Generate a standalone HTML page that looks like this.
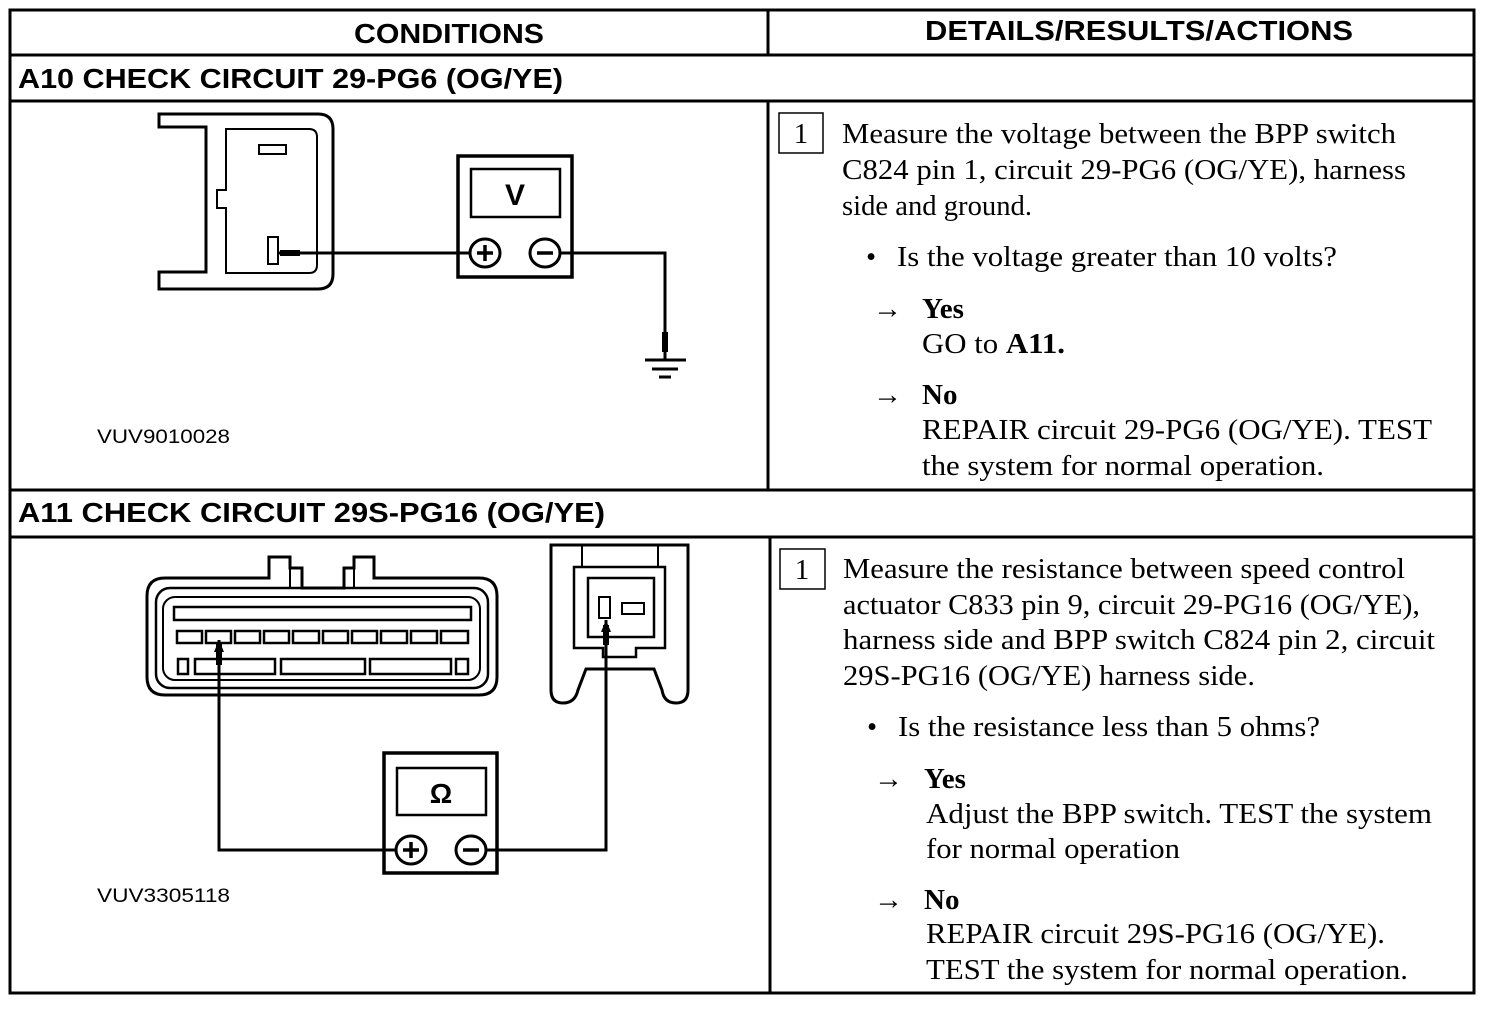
<!DOCTYPE html>
<html><head><meta charset="utf-8"><style>
html,body{margin:0;padding:0;background:#fff;}
svg{display:block;}
.h{font-family:"Liberation Sans",sans-serif;font-weight:bold;font-size:28px;}
.s{font-family:"Liberation Serif",serif;font-size:29px;}
.b{font-weight:bold;}
.l{font-family:"Liberation Sans",sans-serif;font-size:19px;}
</style></head><body>
<svg width="1504" height="1018" viewBox="0 0 1504 1018" xmlns="http://www.w3.org/2000/svg">
<g fill="none" stroke="#000" stroke-width="3">
<rect x="10" y="10" width="1464" height="983"/>
<line x1="10" y1="55" x2="1474" y2="55"/>
<line x1="10" y1="101" x2="1474" y2="101"/>
<line x1="10" y1="490" x2="1474" y2="490"/>
<line x1="10" y1="537" x2="1474" y2="537"/>
<line x1="768" y1="10" x2="768" y2="55"/>
<line x1="768" y1="101" x2="768" y2="490"/>
<line x1="770" y1="537" x2="770" y2="993"/>
</g>
<text class="h" x="354" y="43" textLength="190" lengthAdjust="spacingAndGlyphs">CONDITIONS</text>
<text class="h" x="925" y="40" textLength="428" lengthAdjust="spacingAndGlyphs">DETAILS/RESULTS/ACTIONS</text>
<text class="h" x="18" y="88" textLength="545" lengthAdjust="spacingAndGlyphs">A10 CHECK CIRCUIT 29-PG6 (OG/YE)</text>
<text class="h" x="18" y="522" textLength="587" lengthAdjust="spacingAndGlyphs">A11 CHECK CIRCUIT 29S-PG16 (OG/YE)</text>

<!-- A10 diagram -->
<g fill="none" stroke="#000" stroke-width="3">
<path d="M159,114 H318 Q333,114 333,129 V274 Q333,289 318,289 H159 V272 H206 V127 H159 Z"/>
<path d="M226,129 H309 Q317,129 317,137 V265 Q317,273 309,273 H226 V208 H217 V190 H226 Z" stroke-width="2"/>
<rect x="259" y="145" width="27" height="9" stroke-width="2"/>
<rect x="268" y="237" width="10" height="27" stroke-width="2"/>
<line x1="278" y1="253" x2="470" y2="253"/>
<line x1="280" y1="253" x2="300" y2="253" stroke-width="6"/>
<rect x="458" y="156" width="114" height="121" stroke-width="3.5"/>
<rect x="471" y="169" width="89" height="48" stroke-width="2.5"/>
<ellipse cx="485" cy="253" rx="15" ry="14"/>
<ellipse cx="545" cy="253" rx="15" ry="14"/>
<path d="M561,253 H665 V360"/>
<line x1="665" y1="332" x2="665" y2="352" stroke-width="6"/>
<line x1="645" y1="360" x2="686" y2="360"/>
<line x1="652" y1="369" x2="678" y2="369"/>
<line x1="659" y1="377" x2="671" y2="377"/>
</g>
<text x="515" y="205" font-family="Liberation Sans,sans-serif" font-weight="bold" font-size="30" text-anchor="middle">V</text>
<g stroke="#000" stroke-width="3.5"><line x1="477" y1="253" x2="493" y2="253"/><line x1="485" y1="245" x2="485" y2="261"/><line x1="537" y1="253" x2="553" y2="253"/></g>
<text class="l" x="97" y="443" textLength="133" lengthAdjust="spacingAndGlyphs">VUV9010028</text>

<!-- A11 diagram -->
<g fill="none" stroke="#000" stroke-width="3">
<path d="M165,578 H269 V557 H290 V568 H302 V588 H344 V568 H354 V557 H374 V578 H479 Q497,578 497,596 V677 Q497,695 479,695 H165 Q147,695 147,677 V596 Q147,578 165,578 Z"/>
<rect x="156" y="588" width="332" height="100" rx="14" stroke-width="2.5"/>
<rect x="163" y="597" width="317" height="83" rx="12" stroke-width="2"/>
<line x1="290" y1="568" x2="290" y2="588" stroke-width="2"/>
<line x1="354" y1="568" x2="354" y2="588" stroke-width="2"/>
<rect x="174" y="607" width="297" height="13" stroke-width="2.5"/>
<g stroke-width="2.5">
<rect x="177" y="631" width="25" height="12"/><rect x="206" y="631" width="25" height="12"/><rect x="235" y="631" width="25" height="12"/><rect x="264" y="631" width="25" height="12"/><rect x="293" y="631" width="26" height="12"/><rect x="323" y="631" width="25" height="12"/><rect x="352" y="631" width="25" height="12"/><rect x="381" y="631" width="26" height="12"/><rect x="411" y="631" width="26" height="12"/><rect x="441" y="631" width="27" height="12"/>
<rect x="178" y="659" width="10" height="15"/><rect x="195" y="659" width="80" height="15"/><rect x="281" y="659" width="84" height="15"/><rect x="370" y="659" width="81" height="15"/><rect x="456" y="659" width="12" height="15"/>
</g>
<path d="M219,640 V850 H396"/>
<line x1="219" y1="643" x2="219" y2="665" stroke-width="6"/>
<rect x="384" y="753" width="113" height="120" stroke-width="3.5"/>
<rect x="397" y="768" width="89" height="47" stroke-width="2.5"/>
<ellipse cx="411" cy="850" rx="15" ry="14"/>
<ellipse cx="471" cy="850" rx="15" ry="14"/>
<path d="M486,850 H606 V620"/>
<line x1="606" y1="625" x2="606" y2="645" stroke-width="6"/>
<path d="M551,545 H688 V690 Q688,703 676,703 Q664,703 662,690 L654,669 H586 L578,690 Q575,703 563,703 Q551,703 551,690 Z"/>
<line x1="582" y1="545" x2="582" y2="567" stroke-width="2"/>
<line x1="658" y1="545" x2="658" y2="567" stroke-width="2"/>
<path d="M574,567 H665 V648 H636 V657 H603 V648 H574 Z" stroke-width="2.5"/>
<rect x="588" y="578" width="66" height="59" stroke-width="2.5"/>
<rect x="599" y="597" width="11" height="21" stroke-width="2"/>
<rect x="622" y="603" width="22" height="11" stroke-width="2"/>
</g>
<path d="M219,640 L214,652 H224 Z M606,620 L601,632 H611 Z" fill="#000"/>
<text x="441" y="803" font-family="Liberation Sans,sans-serif" font-weight="bold" font-size="28" text-anchor="middle">Ω</text>
<g stroke="#000" stroke-width="3.5"><line x1="403" y1="850" x2="419" y2="850"/><line x1="411" y1="842" x2="411" y2="858"/><line x1="463" y1="850" x2="479" y2="850"/></g>
<text class="l" x="97" y="902" textLength="133" lengthAdjust="spacingAndGlyphs">VUV3305118</text>

<!-- A10 text -->
<rect x="779" y="113" width="44" height="40" fill="none" stroke="#000" stroke-width="1.5"/>
<text class="s" x="801" y="143" text-anchor="middle">1</text>
<text class="s" x="842" y="143" textLength="554" lengthAdjust="spacingAndGlyphs">Measure the voltage between the BPP switch</text>
<text class="s" x="842" y="179" textLength="564" lengthAdjust="spacingAndGlyphs">C824 pin 1, circuit 29-PG6 (OG/YE), harness</text>
<text class="s" x="842" y="215" textLength="190" lengthAdjust="spacingAndGlyphs">side and ground.</text>
<text class="s" x="866" y="266">•</text>
<text class="s" x="897" y="266" textLength="440" lengthAdjust="spacingAndGlyphs">Is the voltage greater than 10 volts?</text>
<text class="s" x="873" y="318" font-size="34">→</text>
<text class="s b" x="922" y="318">Yes</text>
<text class="s" x="922" y="353" textLength="143" lengthAdjust="spacingAndGlyphs">GO to <tspan class="b">A11.</tspan></text>
<text class="s" x="873" y="404" font-size="34">→</text>
<text class="s b" x="922" y="404">No</text>
<text class="s" x="922" y="439" textLength="510" lengthAdjust="spacingAndGlyphs">REPAIR circuit 29-PG6 (OG/YE). TEST</text>
<text class="s" x="922" y="475" textLength="402" lengthAdjust="spacingAndGlyphs">the system for normal operation.</text>

<!-- A11 text -->
<rect x="780" y="549" width="45" height="40" fill="none" stroke="#000" stroke-width="1.5"/>
<text class="s" x="802" y="579" text-anchor="middle">1</text>
<text class="s" x="843" y="578" textLength="562" lengthAdjust="spacingAndGlyphs">Measure the resistance between speed control</text>
<text class="s" x="843" y="614" textLength="577" lengthAdjust="spacingAndGlyphs">actuator C833 pin 9, circuit 29-PG16 (OG/YE),</text>
<text class="s" x="843" y="649" textLength="592" lengthAdjust="spacingAndGlyphs">harness side and BPP switch C824 pin 2, circuit</text>
<text class="s" x="843" y="685" textLength="412" lengthAdjust="spacingAndGlyphs">29S-PG16 (OG/YE) harness side.</text>
<text class="s" x="867" y="736">•</text>
<text class="s" x="898" y="736" textLength="422" lengthAdjust="spacingAndGlyphs">Is the resistance less than 5 ohms?</text>
<text class="s" x="874" y="788" font-size="34">→</text>
<text class="s b" x="924" y="788">Yes</text>
<text class="s" x="926" y="823" textLength="506" lengthAdjust="spacingAndGlyphs">Adjust the BPP switch. TEST the system</text>
<text class="s" x="926" y="858" textLength="254" lengthAdjust="spacingAndGlyphs">for normal operation</text>
<text class="s" x="874" y="909" font-size="34">→</text>
<text class="s b" x="924" y="909">No</text>
<text class="s" x="926" y="943" textLength="459" lengthAdjust="spacingAndGlyphs">REPAIR circuit 29S-PG16 (OG/YE).</text>
<text class="s" x="926" y="979" textLength="482" lengthAdjust="spacingAndGlyphs">TEST the system for normal operation.</text>
</svg>
</body></html>
